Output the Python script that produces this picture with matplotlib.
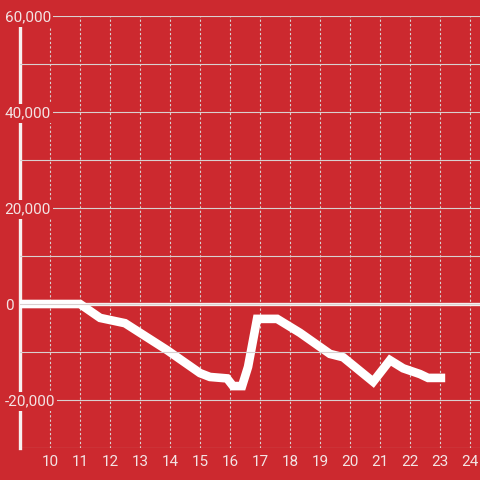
import matplotlib
matplotlib.use("Agg")
import matplotlib.pyplot as plt
from matplotlib.ticker import MultipleLocator, FuncFormatter

# puntos (hora, valor)
hours = [9, 11, 11.67, 12.5, 13.9, 15, 15.33, 15.9, 16.1, 16.4, 16.6, 16.9,
         17.57, 18.33, 19.33, 19.77, 20.77, 21.33, 21.77, 22.33, 22.6, 23.17]
values = [0, 0, -2900, -4000, -9600, -14400, -15200, -15500, -17100, -17100,
          -13100, -3100, -3100, -6000, -10400, -11100, -16200, -11700, -13400,
          -14600, -15400, -15400]

x_ticks = list(range(10, 25))
y_ticks = [-20000, 0, 20000, 40000, 60000]

bg = "#cc292f"
fg = "#f3e4e4"
grid_c = "#d9d0d0"

plt.rcParams["font.family"] = ["Roboto", "DejaVu Sans"]

fig = plt.figure(figsize=(4.8, 4.8), dpi=100, facecolor=bg)
ax = fig.add_axes([20/480, 32/480, 460/480, 432/480], facecolor=bg)

ax.set_xlim(9, 24.33)
ax.set_ylim(-30000, 60000)

# rejilla
ax.yaxis.set_minor_locator(MultipleLocator(10000))
ax.set_yticks(y_ticks)
ax.set_xticks(x_ticks)
ax.grid(True, axis="y", which="both", color=grid_c, lw=0.8)
ax.grid(True, axis="x", which="major", color=grid_c, lw=0.8, linestyle=(0, (2, 2)))
ax.set_axisbelow(True)
ax.yaxis.set_zorder(4)  # etiquetas del eje y por encima de la línea

# línea del cero
ax.axhline(0, color="#f7f0f0", lw=2.4, zorder=2)

ax.plot(hours, values, color="white", lw=6.2, solid_joinstyle="miter",
        solid_capstyle="butt", zorder=3)

for s in ["top", "right", "bottom"]:
    ax.spines[s].set_visible(False)
ax.spines["left"].set_color("#f7f0f0")
ax.spines["left"].set_linewidth(2.4)

ax.yaxis.set_major_formatter(FuncFormatter(lambda v, p: f"{int(v):,}"))
ax.tick_params(axis="y", which="both", length=0, pad=11, labelsize=11,
               labelcolor=fg)
ax.tick_params(axis="x", which="both", length=0, pad=5, labelsize=11,
               labelcolor=fg)
for t in ax.yaxis.get_major_ticks():
    t.label1.set_horizontalalignment("left")
    t.label1.set_bbox(dict(facecolor=bg, edgecolor="none", pad=1.5))

fig.savefig("out.png", dpi=100, facecolor=bg)
